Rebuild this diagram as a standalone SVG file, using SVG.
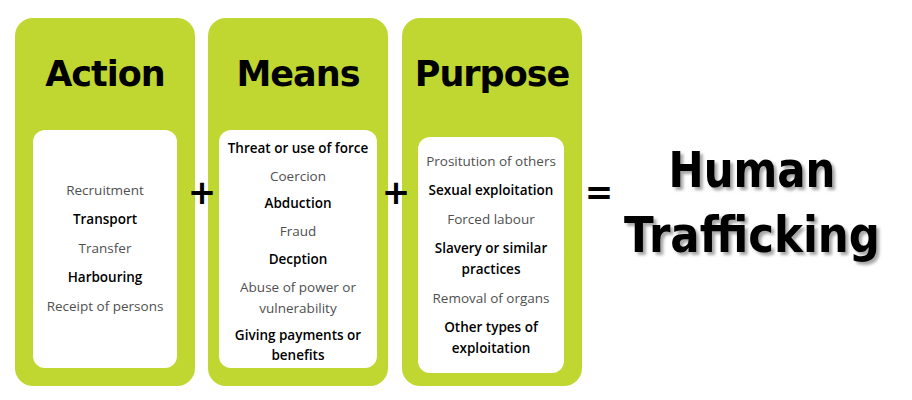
<svg xmlns="http://www.w3.org/2000/svg" width="912" height="400" viewBox="0 0 912 400">
<defs>
<style>
.panel{fill:#BFD730}
.box{fill:#fff}
.h{font-family:"DejaVu Sans",sans-serif;font-weight:bold;font-size:35px;fill:#000;text-anchor:middle;letter-spacing:-1px}
.t{font-family:"Open Sans","Liberation Sans",sans-serif;font-size:13.5px;fill:#505050;text-anchor:middle}
.b{font-family:"Open Sans","Liberation Sans",sans-serif;font-size:13.5px;fill:#000;font-weight:600;text-anchor:middle}
.op{font-family:"DejaVu Sans",sans-serif;font-weight:bold;font-size:34px;fill:#000;text-anchor:middle}
.big{font-family:"DejaVu Sans",sans-serif;font-weight:bold;font-size:50px;fill:#000;text-anchor:middle}
</style>
<filter id="sh" filterUnits="userSpaceOnUse" x="600" y="120" width="312" height="170"><feDropShadow dx="3" dy="3" stdDeviation="1.5" flood-color="#000" flood-opacity="0.35"/></filter>
</defs>
<g id="action">
<rect class="panel" x="15" y="18" width="180" height="368" rx="18"/>
<text class="h" x="105" y="86">Action</text>
<rect class="box" x="33" y="130" width="144" height="238" rx="12"/>
<text class="t" x="105" y="195">Recruitment</text>
<text class="b" x="105" y="224">Transport</text>
<text class="t" x="105" y="253">Transfer</text>
<text class="b" x="105" y="282">Harbouring</text>
<text class="t" x="105" y="311">Receipt of persons</text>
</g>
<g id="means">
<rect class="panel" x="208" y="18" width="180" height="368" rx="18"/>
<text class="h" x="298" y="86">Means</text>
<rect class="box" x="219" y="130" width="158" height="238" rx="12"/>
<text class="b" x="298" y="153">Threat or use of force</text>
<text class="t" x="298" y="181">Coercion</text>
<text class="b" x="298" y="208">Abduction</text>
<text class="t" x="298" y="236">Fraud</text>
<text class="b" x="298" y="264">Decption</text>
<text class="t" x="298" y="292">Abuse of power or</text>
<text class="t" x="298" y="313">vulnerability</text>
<text class="b" x="298" y="340">Giving payments or</text>
<text class="b" x="298" y="360">benefits</text>
</g>
<g id="purpose">
<rect class="panel" x="402" y="18" width="180" height="368" rx="18"/>
<text class="h" x="492" y="86">Purpose</text>
<rect class="box" x="418" y="137" width="146" height="236" rx="12"/>
<text class="t" x="491" y="166">Prositution of others</text>
<text class="b" x="491" y="195">Sexual exploitation</text>
<text class="t" x="491" y="224">Forced labour</text>
<text class="b" x="491" y="253">Slavery or similar</text>
<text class="b" x="491" y="274">practices</text>
<text class="t" x="491" y="303">Removal of organs</text>
<text class="b" x="491" y="332">Other types of</text>
<text class="b" x="491" y="353">exploitation</text>
</g>
<g id="connectors">
<text class="op" x="202" y="204">+</text>
<text class="op" x="396" y="204">+</text>
<text class="op" x="599" y="204">=</text>
</g>
<g id="result" filter="url(#sh)">
<text class="big" x="752" y="187" textLength="167" lengthAdjust="spacingAndGlyphs">Human</text>
<text class="big" x="752" y="252" textLength="256" lengthAdjust="spacingAndGlyphs">Trafficking</text>
</g>
</svg>
